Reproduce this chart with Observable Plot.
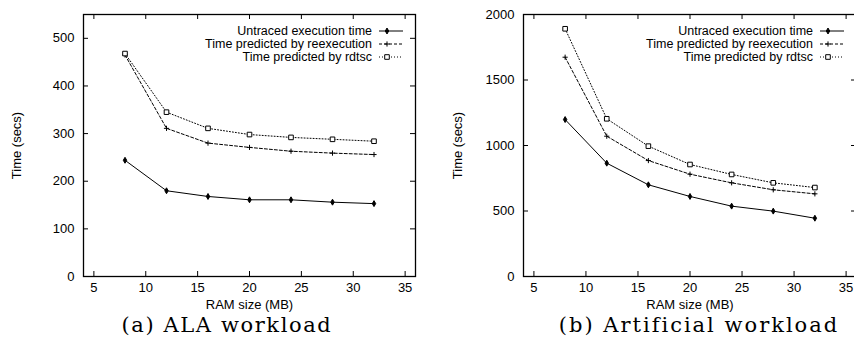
<!DOCTYPE html>
<html><head><meta charset="utf-8">
<script src="https://cdn.jsdelivr.net/npm/d3@7"></script>
<script src="https://cdn.jsdelivr.net/npm/@observablehq/plot@0.6"></script>
<style>
html,body{margin:0;padding:0;background:#fff;width:854px;height:347px;overflow:hidden;position:relative;}
#a,#b{position:absolute;top:0;}
#a{left:0;width:430px}
#b{left:430px;width:440px}
.cap{position:absolute;font-family:"DejaVu Serif",serif;font-size:21px;letter-spacing:1.6px;line-height:1;white-space:nowrap;transform:translateX(-50%);top:315px;color:#000}
</style></head><body>
<div id="a"></div><div id="b"></div>
<div class="cap" style="left:227px">(a) ALA workload</div>
<div class="cap" style="left:699px;letter-spacing:2px">(b) Artificial workload</div>
<script>
// ---- data ----
const ramSizes = [8, 12, 16, 20, 24, 28, 32];
const seriesNames = ["Untraced execution time", "Time predicted by reexecution", "Time predicted by rdtsc"];
const alaUntraced = [244, 180, 168, 161, 161, 156, 153];
const alaReexec   = [465, 311, 280, 271, 263, 259, 256];
const alaRdtsc    = [468, 345, 311, 298, 292, 288, 284];
const artUntraced = [1198, 865, 700, 611, 537, 499, 445];
const artReexec   = [1674, 1071, 885, 781, 715, 662, 631];
const artRdtsc    = [1891, 1204, 995, 855, 779, 715, 679];
const xTicks = [5, 10, 15, 20, 25, 30, 35];
const alaYTicks = [0, 100, 200, 300, 400, 500];
const artYTicks = [0, 500, 1000, 1500, 2000];
const xLabel = "RAM size (MB)";
const yLabel = "Time (secs)";

// ---- styles ----
const styles = [
  {dash: null,  symbol: "diamond", r: 1.8, fill: "black"},
  {dash: "3,2", symbol: "plus",    r: 1.8, fill: "none"},
  {dash: "1,2", symbol: "square",  r: 2.6, fill: "white"}
];
const symMap = {diamond: d3.symbolDiamond, plus: d3.symbolPlus, square: d3.symbolSquare};

function legendMark() {
  return (index, scales, values, dims) => {
    const g = d3.create("svg:g").attr("font-size", 12.5).attr("fill", "black");
    const xr = dims.width - dims.marginRight;
    styles.forEach((st, i) => {
      const y = dims.marginTop + 17 + i * 13;
      g.append("text").attr("x", xr - 43).attr("y", y).attr("dy", "0.35em")
        .attr("text-anchor", "end").text(seriesNames[i]);
      const ln = g.append("line").attr("x1", xr - 36).attr("x2", xr - 12)
        .attr("y1", y).attr("y2", y).attr("stroke", "black").attr("stroke-width", 1);
      if (st.dash) ln.attr("stroke-dasharray", st.dash);
      const size = st.r * st.r * Math.PI;
      g.append("path").attr("d", d3.symbol(symMap[st.symbol], size)())
        .attr("transform", `translate(${xr - 28},${y})`)
        .attr("fill", st.fill).attr("stroke", "black").attr("stroke-width", 1);
    });
    return g.node();
  };
}

function chart({series, yDomain, yTicks, width, marginLeft, marginRight, yLabelOffset}) {
  const height = 310, marginTop = 14, marginBottom = 34;
  const plotH = height - marginTop - marginBottom;
  const plotW = width - marginLeft - marginRight;
  const marks = [];
  styles.forEach((st, s) => {
    const d = ramSizes.map((r, i) => ({ram: r, t: series[s][i]}));
    marks.push(Plot.line(d, {x: "ram", y: "t", stroke: "black", strokeWidth: 1, strokeDasharray: st.dash}));
    marks.push(Plot.dot(d, {x: "ram", y: "t", symbol: st.symbol, r: st.r, fill: st.fill, stroke: "black", strokeWidth: 1}));
  });
  return Plot.plot({
    width, height, marginTop, marginBottom, marginLeft, marginRight,
    style: {fontFamily: "'Liberation Sans', Arial, sans-serif", fontSize: "13px", background: "white", overflow: "visible", color: "black", maxWidth: "none"},
    x: {domain: [4, 36]},
    y: {domain: yDomain},
    marks: [
      Plot.axisX(xTicks, {tickSize: 0, tickPadding: 6, fontSize: 13, tickFormat: d3.format("d"), label: xLabel, labelAnchor: "center", labelArrow: "none", labelOffset: 32}),
      Plot.axisY(yTicks, {tickSize: 0, tickPadding: 9, fontSize: 13, tickFormat: d3.format("d"), label: yLabel, labelAnchor: "center", labelArrow: "none", labelOffset: yLabelOffset}),
      Plot.tickX(xTicks, {x: d => d, insetTop: plotH - 5, stroke: "black"}),
      Plot.tickX(xTicks, {x: d => d, insetBottom: plotH - 5, stroke: "black"}),
      Plot.tickY(yTicks, {y: d => d, insetRight: plotW - 5, stroke: "black"}),
      Plot.tickY(yTicks, {y: d => d, insetLeft: plotW - 5, stroke: "black"}),
      ...marks,
      legendMark(),
      Plot.frame({stroke: "black", strokeWidth: 1.3})
    ]
  });
}

document.getElementById("a").append(chart({
  series: [alaUntraced, alaReexec, alaRdtsc], yDomain: [0, 550], yTicks: alaYTicks,
  width: 430, marginLeft: 83, marginRight: 15, yLabelOffset: 72
}));
document.getElementById("b").append(chart({
  series: [artUntraced, artReexec, artRdtsc], yDomain: [0, 2000], yTicks: artYTicks,
  width: 440, marginLeft: 93, marginRight: 14, yLabelOffset: 71
}));
</script>
</body></html>
